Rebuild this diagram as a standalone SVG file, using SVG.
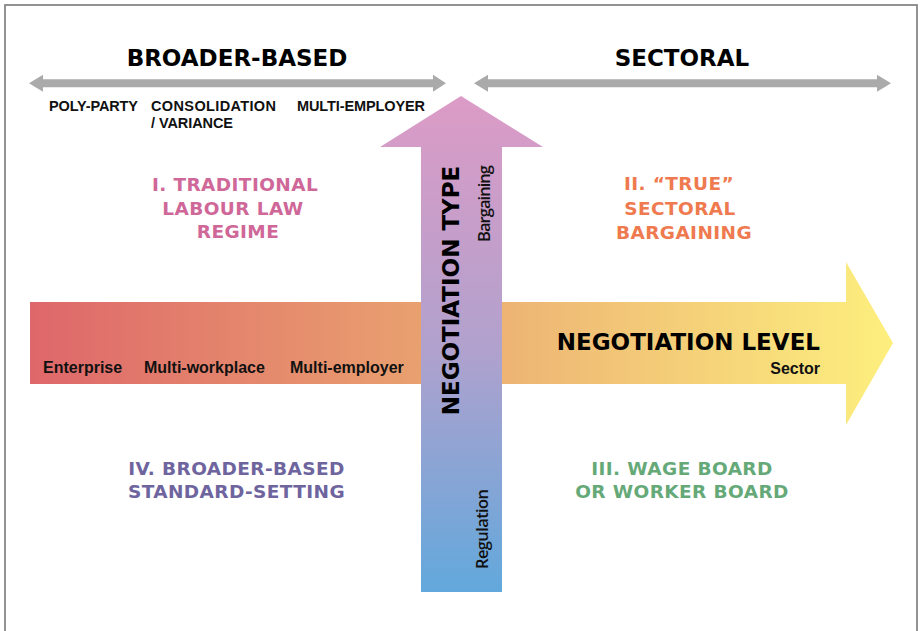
<svg xmlns="http://www.w3.org/2000/svg" width="921" height="631" viewBox="0 0 921 631">
<defs>
<linearGradient id="gH" gradientUnits="userSpaceOnUse" x1="30" y1="0" x2="893" y2="0">
<stop offset="0" stop-color="#DE676A"/>
<stop offset="0.45" stop-color="#E9A06F"/>
<stop offset="0.55" stop-color="#EDB474"/>
<stop offset="1" stop-color="#FDEF7E"/>
</linearGradient>
<linearGradient id="gV" gradientUnits="userSpaceOnUse" x1="0" y1="96" x2="0" y2="592">
<stop offset="0" stop-color="#DC9BC6"/>
<stop offset="0.5" stop-color="#B2A1CD"/>
<stop offset="1" stop-color="#62A8DC"/>
</linearGradient>
<style>
.title{font-family:"DejaVu Sans",sans-serif;font-weight:bold;font-size:23px;fill:#000;text-anchor:middle}
.sub{font-family:"Liberation Sans",Arial,sans-serif;font-weight:bold;font-size:14.5px;fill:#111}
.lvl{font-family:"Liberation Sans",Arial,sans-serif;font-weight:bold;font-size:16px;fill:#111}
.typ{font-family:"Open Sans","Liberation Sans",Arial,sans-serif;font-weight:600;font-size:16.5px;fill:#111}
.quad{font-family:"DejaVu Sans",sans-serif;font-weight:bold;font-size:18.5px;letter-spacing:0.4px;text-anchor:middle}
.big{font-family:"DejaVu Sans",sans-serif;font-weight:bold;fill:#000}
</style>
</defs>
<rect x="0" y="0" width="921" height="631" fill="#fff"/>
<rect x="5" y="5" width="912" height="650" fill="none" stroke="#808080" stroke-width="1.7"/>

<g id="connectors">
<polygon fill="#AAAAAA" points="29,83.3 43,74.8 43,79.3 433,79.3 433,74.8 446,83.3 433,91.8 433,87.3 43,87.3 43,91.8"/>
<polygon fill="#AAAAAA" points="474,83.3 488,74.8 488,79.3 877,79.3 877,74.8 891,83.3 877,91.8 877,87.3 488,87.3 488,91.8"/>
</g>

<g id="header-broader">
<text class="title" x="237" y="66">BROADER-BASED</text>
<text class="sub" x="49" y="111" textLength="89">POLY-PARTY</text>
<text class="sub" x="151" y="111" textLength="125">CONSOLIDATION</text>
<text class="sub" x="151" y="128" textLength="82">/ VARIANCE</text>
<text class="sub" x="297" y="111" textLength="128">MULTI-EMPLOYER</text>
</g>
<g id="header-sectoral">
<text class="title" x="682" y="66">SECTORAL</text>
</g>

<g id="negotiation-level">
<polygon fill="url(#gH)" points="30,302 846,302 846,262 893,343 846,425 846,384 30,384"/>
<text class="lvl" x="43" y="373">Enterprise</text>
<text class="lvl" x="144" y="373">Multi-workplace</text>
<text class="lvl" x="290" y="373">Multi-employer</text>
<text class="big" x="820" y="350" font-size="23" text-anchor="end">NEGOTIATION LEVEL</text>
<text class="lvl" x="820" y="374" text-anchor="end">Sector</text>
</g>

<g id="negotiation-type">
<polygon fill="url(#gV)" points="421,147 380,147 461,96 543,147 502,147 502,592 421,592"/>
<text class="big" font-size="23" text-anchor="middle" transform="translate(459,290.5) rotate(-90)">NEGOTIATION TYPE</text>
<text class="typ" textLength="77" transform="translate(490,242) rotate(-90)">Bargaining</text>
<text class="typ" textLength="80" transform="translate(488,569) rotate(-90)">Regulation</text>
</g>

<g id="quadrant-1">
<text class="quad" fill="#CF6798" x="235" y="191">I. TRADITIONAL</text>
<text class="quad" fill="#CF6798" x="233" y="215">LABOUR LAW</text>
<text class="quad" fill="#CF6798" x="238" y="238">REGIME</text>
</g>
<g id="quadrant-2">
<text class="quad" fill="#EF7A50" x="679" y="190">II. “TRUE”</text>
<text class="quad" fill="#EF7A50" x="680" y="215">SECTORAL</text>
<text class="quad" fill="#EF7A50" x="684" y="239">BARGAINING</text>
</g>
<g id="quadrant-3">
<text class="quad" fill="#66A978" x="682" y="475">III. WAGE BOARD</text>
<text class="quad" fill="#66A978" x="682" y="498">OR WORKER BOARD</text>
</g>
<g id="quadrant-4">
<text class="quad" fill="#6E649E" x="236.5" y="475">IV. BROADER-BASED</text>
<text class="quad" fill="#6E649E" x="236.5" y="498">STANDARD-SETTING</text>
</g>
</svg>
